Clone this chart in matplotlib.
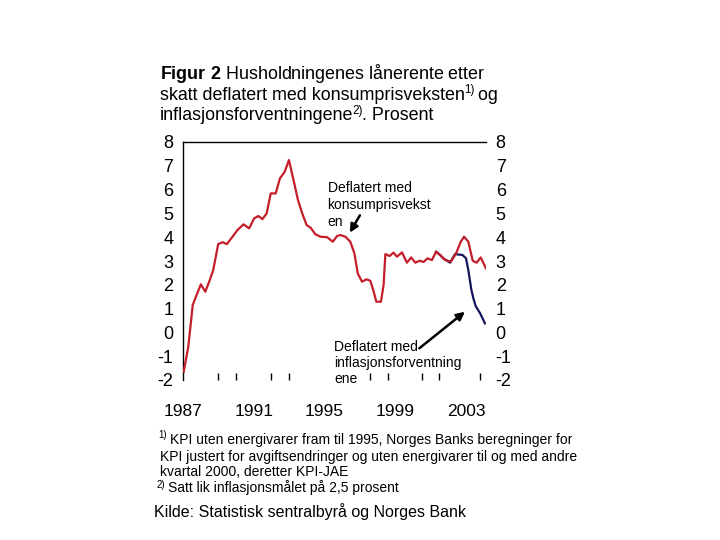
import matplotlib
matplotlib.use('Agg')
import matplotlib.pyplot as plt

plt.rcParams['font.family'] = ['Liberation Sans', 'DejaVu Sans']
plt.rcParams['mathtext.fontset'] = 'custom'
plt.rcParams['mathtext.rm'] = 'Liberation Sans'
plt.rcParams['mathtext.bf'] = 'Liberation Sans:bold'

# rente deflatert med konsumprisveksten (lest av figuren)
kpi_x = [1987.04, 1987.3, 1987.55, 1987.73, 1988.01, 1988.26, 1988.48, 1988.71, 1988.99,
         1989.24, 1989.48, 1989.8, 1990.08, 1990.42, 1990.74, 1991.02, 1991.26, 1991.49,
         1991.73, 1991.96, 1992.24, 1992.48, 1992.75, 1992.99, 1993.27, 1993.5, 1993.74,
         1993.99, 1994.21, 1994.49, 1994.77, 1995.15, 1995.47, 1995.71, 1995.9, 1996.18,
         1996.46, 1996.69, 1996.88, 1997.12, 1997.37, 1997.59, 1997.78, 1997.93, 1998.19,
         1998.34, 1998.44, 1998.68, 1998.9, 1999.1, 1999.38, 1999.66, 1999.9, 2000.13,
         2000.37, 2000.6, 2000.82, 2001.07, 2001.31, 2001.54, 2001.82, 2002.14, 2002.44,
         2002.7, 2002.89, 2003.13, 2003.38, 2003.6, 2003.83, 2004.13]
kpi_y = [-1.65, -0.6, 1.15, 1.5, 2.02, 1.71, 2.13, 2.62, 3.71,
         3.79, 3.71, 4.02, 4.3, 4.54, 4.37, 4.79, 4.89, 4.76,
         5.0, 5.84, 5.84, 6.47, 6.75, 7.24, 6.33, 5.56, 5.0,
         4.51, 4.4, 4.12, 4.02, 4.0, 3.81, 4.05, 4.09, 4.02,
         3.81, 3.32, 2.48, 2.13, 2.23, 2.17, 1.71, 1.29, 1.29,
         1.99, 3.29, 3.21, 3.35, 3.18, 3.36, 2.93, 3.15, 2.93,
         3.01, 2.96, 3.11, 3.04, 3.39, 3.25, 3.04, 2.97, 3.32,
         3.81, 4.02, 3.81, 3.01, 2.93, 3.15, 2.69]

# rente deflatert med inflasjonsforventningene
inf_x = [2001.31, 2001.54, 2001.72, 2002.1, 2002.38, 2002.81, 2003.0, 2003.13, 2003.3,
         2003.42, 2003.55, 2003.8, 2004.07]
inf_y = [3.39, 3.25, 3.11, 2.93, 3.29, 3.25, 3.11, 2.62, 1.8,
         1.42, 1.1, 0.8, 0.38]

year_labels = [1987, 1991, 1995, 1999, 2003]
year_ticks = [1989, 1990, 1992, 1993, 1995, 1997.6, 1998.6, 2000.5, 2001.5, 2003.8]
y_major = list(range(-2, 9))
y_minor = [-1, 2, 4, 5, 6, 7]

red = '#C41E2A'
navy = '#15155C'

fig = plt.figure(figsize=(7.2, 5.4), dpi=100)
ax = fig.add_axes([183 / 720, 1 - 380 / 540, (486 - 183) / 720, (380 - 142) / 540])

ax.plot(inf_x, inf_y, color=navy, lw=1.6, zorder=2)
ax.plot(kpi_x, kpi_y, color=red, lw=1.6, zorder=3)

ax.set_xlim(1987.0, 2004.13)
ax.set_ylim(-2, 8)

for s in ['right', 'bottom']:
    ax.spines[s].set_visible(False)
ax.spines['top'].set_linewidth(1.0)
ax.spines['left'].set_linewidth(1.0)

narrow = ['Liberation Sans Narrow', 'Liberation Sans']
ax.set_yticks(y_major)
ax.set_yticklabels([str(v) for v in y_major], fontsize=13, family=narrow)
ax.set_yticks(y_minor, minor=True)
ax.tick_params(axis='y', which='major', length=0, left=True, right=True,
               labelleft=True, labelright=True, pad=7)
ax.tick_params(axis='y', which='minor', length=4, direction='in', left=True, right=True, width=1)

ax.set_xticks(year_labels)
ax.set_xticklabels([str(v) for v in year_labels], fontsize=12.5, family=narrow)
ax.set_xticks(year_ticks, minor=True)
ax.tick_params(axis='x', which='major', length=0, pad=17)
ax.tick_params(axis='x', which='minor', length=5, direction='in', width=1)

ax.text(1995.17, 6.35, 'Deflatert med\nkonsumprisvekst\nen', fontsize=10, va='top', ha='left',
        linespacing=1.25, zorder=4)
ax.annotate('', xy=(1996.35, 4.09), xytext=(1997.08, 5.02),
            arrowprops=dict(arrowstyle='-|>', color='black', lw=1.8, mutation_scale=12))

ax.text(1995.56, -0.3, 'Deflatert med\ninflasjonsforventning\nene', fontsize=10, va='top', ha='left',
        linespacing=1.2, zorder=4)
ax.annotate('', xy=(2003.06, 0.94), xytext=(2000.24, -0.74),
            arrowprops=dict(arrowstyle='-|>', color='black', lw=1.8, mutation_scale=12))


def fx(px):
    return px / 720


def fy(py):
    return 1 - py / 540


renderer = fig.canvas.get_renderer()


def with_sup(x, y, text, sup, rest, size):
    # tekst med hevet fotnotetall etterpå
    t = fig.text(fx(x), fy(y), text, fontsize=size, va='baseline')
    bb = t.get_window_extent(renderer)
    s = fig.text((bb.x1 - 1) / 720, fy(y - 6), sup, fontsize=size * 0.65, va='baseline')
    bb2 = s.get_window_extent(renderer)
    if rest:
        fig.text((bb2.x1 - 1) / 720, fy(y), rest, fontsize=size, va='baseline')


tsize = 12.9
fig.text(fx(160), fy(79), r'$\mathbf{Figur\ 2}$ Husholdningenes lånerente etter', fontsize=tsize, va='baseline')
with_sup(160, 99.5, 'skatt deflatert med konsumprisveksten', '1)', ' og', tsize)
with_sup(160, 120, 'inflasjonsforventningene', '2)', '. Prosent', tsize)

# fotnoter
fig.text(fx(158), fy(438.5), '1)', fontsize=7, va='baseline')
fig.text(fx(170), fy(444), 'KPI uten energivarer fram til 1995, Norges Banks beregninger for', fontsize=10, va='baseline')
fig.text(fx(160), fy(460.5), 'KPI justert for avgiftsendringer og uten energivarer til og med andre', fontsize=10, va='baseline')
fig.text(fx(160), fy(476.5), 'kvartal 2000, deretter KPI-JAE', fontsize=10, va='baseline')
fig.text(fx(157), fy(487.5), '2)', fontsize=7, va='baseline')
fig.text(fx(168), fy(492), 'Satt lik inflasjonsmålet på 2,5 prosent', fontsize=10, va='baseline')
fig.text(fx(154), fy(516.5), 'Kilde: Statistisk sentralbyrå og Norges Bank', fontsize=11.5, va='baseline')

fig.savefig('out.png', dpi=100, facecolor='white')
